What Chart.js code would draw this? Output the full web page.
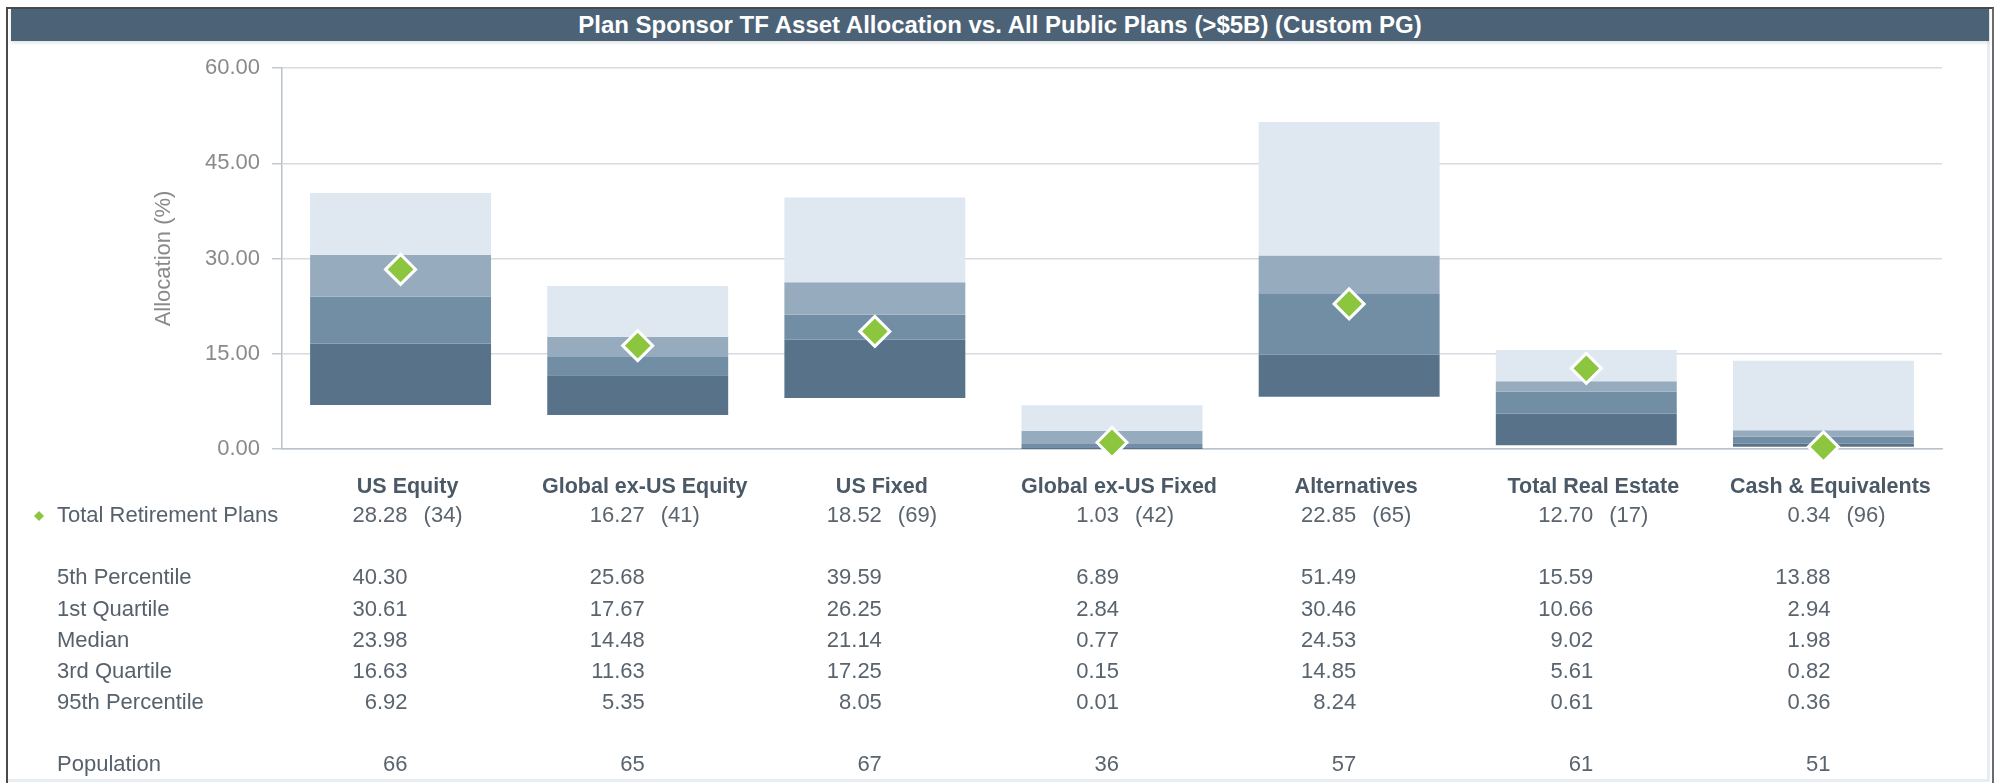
<!DOCTYPE html>
<html>
<head>
<meta charset="utf-8">
<script src="https://cdn.jsdelivr.net/npm/chart.js@4"></script>
<style>
  html, body { margin:0; padding:0; background:#fff; }
  body { width:1997px; height:783px; position:relative; overflow:hidden; font-family:"Liberation Sans", Arial, sans-serif; }
  #frame { position:absolute; left:6px; top:7px; width:1988px; height:790px; border-left:2px solid #4a4a4a; border-top:2px solid #4a4a4a; border-right:2px solid #6a6a6a; box-sizing:border-box; }
  #panel { position:absolute; left:8px; top:9px; width:1982px; height:773px; border-right:3px solid #e7edf2; border-bottom:3px solid #e7edf2; box-sizing:border-box; }
  #titlebar { position:absolute; left:11px; top:9px; width:1978px; height:32px; background:#4c6276; color:#fff; font-weight:bold; font-size:24px; line-height:32px; text-align:center; box-shadow:0 2px 3px rgba(80,100,120,0.18); }
  #chart { position:absolute; left:0; top:0; }
</style>
</head>
<body>
<div id="frame"></div>
<div id="panel"></div>
<div id="titlebar">Plan Sponsor TF Asset Allocation vs. All Public Plans (&gt;$5B) (Custom PG)</div>
<canvas id="chart" width="1997" height="783"></canvas>
<script>
// asset classes and percentile values (allocation %)
const categories = ['US Equity','Global ex-US Equity','US Fixed','Global ex-US Fixed','Alternatives','Total Real Estate','Cash & Equivalents'];
const p5     = [40.30, 25.68, 39.59, 6.89, 51.49, 15.59, 13.88];
const q1     = [30.61, 17.67, 26.25, 2.84, 30.46, 10.66, 2.94];
const median = [23.98, 14.48, 21.14, 0.77, 24.53, 9.02, 1.98];
const q3     = [16.63, 11.63, 17.25, 0.15, 14.85, 5.61, 0.82];
const p95    = [6.92, 5.35, 8.05, 0.01, 8.24, 0.61, 0.36];
const plan     = [28.28, 16.27, 18.52, 1.03, 22.85, 12.70, 0.34];
const planRank = [34, 41, 69, 42, 65, 17, 96];
const population = [66, 65, 67, 36, 57, 61, 51];
const yTicks = [0, 15, 30, 45, 60];

const FONT = '"Liberation Sans", Arial, sans-serif';
Chart.defaults.font.family = FONT;

// stats table under the chart, columns follow the x scale
const statTable = {
  id: 'statTable',
  afterDraw(chart) {
    const ctx = chart.ctx;
    const x = chart.scales.x;
    const col = i => x.getPixelForValue(i);
    ctx.save();
    ctx.textBaseline = 'middle';

    ctx.font = 'bold 21.5px ' + FONT;
    ctx.fillStyle = '#4b5967';
    ctx.textAlign = 'center';
    categories.forEach((c, i) => ctx.fillText(c, col(i) + 7, 487));

    ctx.font = '22px ' + FONT;
    ctx.fillStyle = '#56616c';
    ctx.textAlign = 'left';
    const rows = [
      ['Total Retirement Plans', 516, null],
      ['5th Percentile', 578, p5],
      ['1st Quartile', 610, q1],
      ['Median', 641, median],
      ['3rd Quartile', 672, q3],
      ['95th Percentile', 703, p95],
      ['Population', 765, population]
    ];
    rows.forEach(r => ctx.fillText(r[0], 57, r[1]));

    // legend marker
    ctx.fillStyle = '#8cc63f';
    ctx.beginPath();
    ctx.moveTo(39, 511); ctx.lineTo(44, 516); ctx.lineTo(39, 521); ctx.lineTo(34, 516);
    ctx.closePath(); ctx.fill();

    ctx.fillStyle = '#5a646e';
    plan.forEach((v, i) => {
      ctx.textAlign = 'right';
      ctx.fillText(v.toFixed(2), col(i) + 7, 516);
      ctx.textAlign = 'left';
      ctx.fillText('(' + planRank[i] + ')', col(i) + 23, 516);
    });
    ctx.textAlign = 'right';
    rows.slice(1).forEach(r => {
      r[2].forEach((v, i) => {
        const s = r[2] === population ? String(v) : v.toFixed(2);
        ctx.fillText(s, col(i) + 7, r[1]);
      });
    });
    ctx.restore();
  }
};

const band = (lo, hi) => hi.map((v, i) => [lo[i], v]);
const barCommon = { grouped: false, barPercentage: 0.763, categoryPercentage: 1.0, borderWidth: 0, order: 1 };

new Chart(document.getElementById('chart').getContext('2d'), {
  type: 'bar',
  data: {
    labels: categories,
    datasets: [
      { type: 'line', label: 'Total Retirement Plans', data: plan, showLine: false, clip: false, order: 0,
        pointStyle: 'rectRot', pointRadius: 15, pointHoverRadius: 15,
        pointBackgroundColor: '#8cc63f', pointBorderColor: '#ffffff', pointBorderWidth: 3 },
      Object.assign({ label: '5th Percentile - 1st Quartile', data: band(q1, p5), backgroundColor: '#dfe8f1' }, barCommon),
      Object.assign({ label: '1st Quartile - Median', data: band(median, q1), backgroundColor: '#97abbe' }, barCommon),
      Object.assign({ label: 'Median - 3rd Quartile', data: band(q3, median), backgroundColor: '#728ea5' }, barCommon),
      Object.assign({ label: '3rd Quartile - 95th Percentile', data: band(p95, q3), backgroundColor: '#587389' }, barCommon)
    ]
  },
  options: {
    responsive: false,
    animation: false,
    layout: { padding: { top: 68, right: 55, bottom: 0, left: 0 } },
    plugins: { legend: { display: false }, tooltip: { enabled: false } },
    scales: {
      x: {
        ticks: { display: false },
        grid: { display: false },
        border: { color: '#b9c2ca', width: 1.5 },
        afterFit: s => { s.height = 334; }
      },
      y: {
        min: 0, max: 60,
        afterBuildTicks: s => { s.ticks = yTicks.map(v => ({ value: v })); },
        ticks: { callback: v => v.toFixed(2), color: '#8a8a8a', font: { size: 22 }, padding: 12 },
        grid: { color: '#d6dce2', lineWidth: 1.5, tickLength: 10, tickColor: '#c2cad1' },
        border: { color: '#b9c2ca', width: 1.5 },
        title: { display: true, text: 'Allocation (%)', color: '#8a8a8a', font: { size: 22 }, padding: { top: 151, bottom: 0 } },
        afterFit: s => { s.width = 282; }
      }
    }
  },
  plugins: [statTable]
});
</script>
</body>
</html>
